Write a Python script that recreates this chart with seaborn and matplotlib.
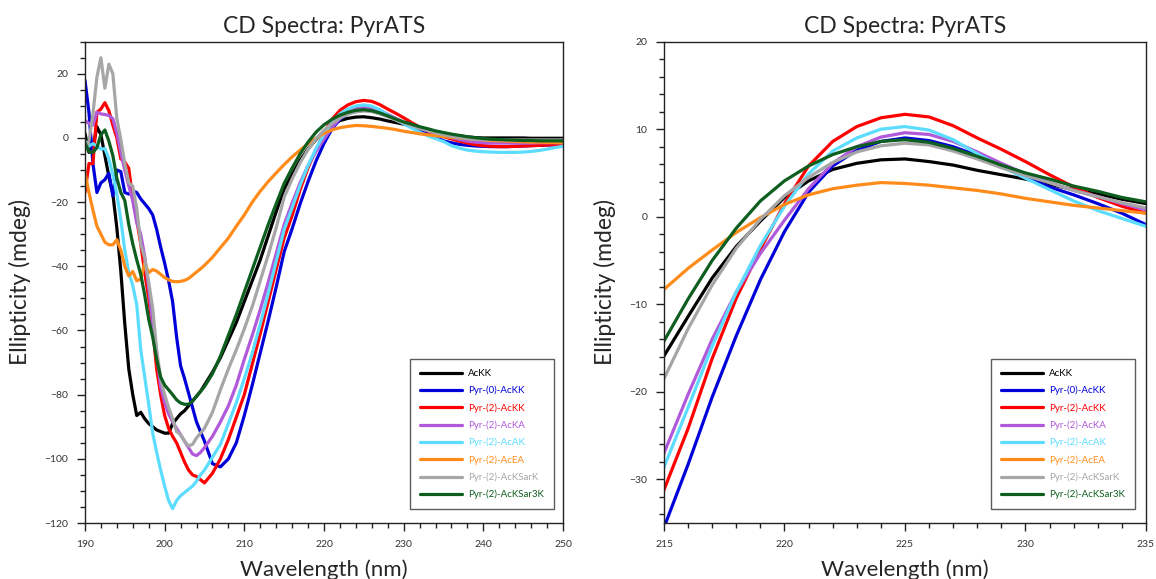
import numpy as np
import pandas as pd
import matplotlib
matplotlib.use("Agg")
import matplotlib.pyplot as plt
from matplotlib.lines import Line2D
from matplotlib.ticker import MultipleLocator
import seaborn as sns

# ---------------- data ----------------
wavelength = [190, 190.5, 191, 191.5, 192, 192.5, 193, 193.5, 194, 194.5,
              195, 195.5, 196, 196.5, 197, 197.5, 198, 198.5, 199, 199.5,
              200, 200.5, 201, 201.5, 202, 202.5, 203, 203.5, 204, 204.5, 205,
              206, 207, 208, 209, 210, 211, 212, 213, 214, 215,
              216, 217, 218, 219, 220, 221, 222, 223, 224, 225,
              226, 227, 228, 229, 230, 231, 232, 233, 234, 235,
              236, 237, 238, 239, 240, 241, 242, 243, 244, 245,
              246, 247, 248, 249, 250]

series_names = ["AcKK", "Pyr-(0)-AcKK", "Pyr-(2)-AcKK", "Pyr-(2)-AcKA",
                "Pyr-(2)-AcAK", "Pyr-(2)-AcEA", "Pyr-(2)-AcKSarK", "Pyr-(2)-AcKSar3K"]
series_colors = ["#000000", "#0000D8", "#FF0000", "#B159DB",
                 "#5CDCFF", "#FF8C1A", "#A6A6A6", "#0E5E1F"]

ackk = [1.5, -4.5, -3, 3.5, 1, -5.5, -12, -17.5, -28, -41.5,
        -58, -72, -80, -86.5, -85.5, -87.5, -89, -90, -91, -91.5,
        -92, -92, -89, -87.5, -86, -85, -83.5, -82, -80.5, -79, -77,
        -73, -68.5, -63, -57.5, -51, -44.5, -38, -30.5, -23, -15.9,
        -11.4, -7.0, -3.4, -0.5, 2.2, 4.1, 5.4, 6.1, 6.5, 6.6,
        6.3, 5.9, 5.3, 4.8, 4.3, 3.7, 3.1, 2.6, 2.0, 1.5,
        1.0, 0.6, 0.3, 0.1, 0.0, 0.0, 0.0, 0.0, 0.0, 0.0,
        -0.1, -0.1, -0.1, -0.1, -0.1]

pyr0_ackk = [18, 8, -8, -17, -14, -13, -11, -18, -10, -10.5,
             -17, -17.5, -16.5, -17, -19, -20.5, -22, -24, -28.5, -34,
             -39, -44.5, -51, -62, -71, -75, -79.5, -84, -88.5, -91.5, -94.5,
             -101.5, -102.5, -100, -95, -86.5, -77, -67, -57, -46.5, -35.5,
             -28.3, -20.6, -13.6, -7.2, -1.7, 2.8, 5.8, 7.6, 8.6, 9.0,
             8.7, 8.0, 7.0, 5.9, 4.6, 3.4, 2.5, 1.5, 0.4, -0.9,
             -1.5, -2.0, -2.3, -2.5, -2.6, -2.7, -2.7, -2.7, -2.6, -2.5,
             -2.4, -2.3, -2.2, -2.1, -2.0]

pyr2_ackk = [-17, -8, -8, 8, 9, 11, 8.5, 4, 0, -6.5,
             -7.5, -9.5, -19, -25.5, -33, -42, -50, -59.5, -72, -80,
             -86.5, -90.5, -93, -95, -98, -101, -103.5, -105, -105.5, -106.5, -107.5,
             -104.5, -100, -94, -87, -80, -70.5, -61, -51, -41, -31.2,
             -24.2, -16.2, -9.3, -3.7, 1.5, 5.8, 8.6, 10.3, 11.3, 11.7,
             11.4, 10.4, 9.0, 7.7, 6.3, 4.8, 3.4, 2.2, 1.2, 0.4,
             -0.3, -1.0, -1.6, -2.1, -2.4, -2.6, -2.7, -2.7, -2.6, -2.5,
             -2.4, -2.3, -2.2, -2.1, -2.0]

pyr2_acka = [5.5, 4.5, 4, 8, 7.5, 7.3, 7, 6, 1.5, -4.5,
             -10, -15, -19.5, -26.5, -30, -37, -46.5, -58, -67, -77.5,
             -82.5, -86, -88.5, -90.5, -92.5, -94.5, -96.5, -98.5, -99, -98, -96.5,
             -93, -88.5, -83.5, -77, -69, -61.5, -53.5, -45, -36, -27,
             -20.3, -14.0, -8.6, -4.2, -0.4, 3.2, 6.1, 8.0, 9.1, 9.6,
             9.4, 8.6, 7.4, 6.1, 4.9, 3.9, 3.0, 2.3, 1.5, 0.8,
             0.1, -0.5, -1.0, -1.3, -1.5, -1.6, -1.6, -1.6, -1.6, -1.6,
             -1.6, -1.5, -1.5, -1.5, -1.5]

pyr2_acak = [-1, -2.5, -1.8, -2.5, -3.5, -3.3, -6.5, -11.5, -17.5, -25.5,
             -35, -42, -46, -52, -66, -74.5, -83, -92, -98, -103.5,
             -108.5, -113, -115.5, -113, -111.5, -110.5, -109.5, -108.5, -107, -105, -103.5,
             -99.5, -95.5, -89, -82.5, -75, -67, -58, -48.5, -38.5, -28.6,
             -21.8, -14.8, -8.6, -3.3, 1.2, 4.9, 7.5, 9.0, 10.0, 10.3,
             9.9, 8.8, 7.2, 5.7, 4.4, 3.1, 1.8, 0.7, -0.2, -1.1,
             -2.4, -3.2, -3.8, -4.1, -4.3, -4.4, -4.5, -4.5, -4.5, -4.4,
             -4.2, -3.9, -3.5, -3.0, -2.6]

pyr2_acea = [-11, -17, -22.5, -27.5, -30, -32.5, -33.3, -33.3, -31.7, -35,
             -40, -43, -41.6, -44.5, -44, -39, -42, -41, -41.5, -42.5,
             -43.5, -44.2, -44.7, -44.8, -44.7, -44.4, -43.8, -42.8, -41.8, -40.8, -39.7,
             -37.2, -34.2, -31.2, -27.5, -24, -20, -16.6, -13.6, -10.9, -8.3,
             -5.9, -3.8, -1.8, -0.1, 1.4, 2.5, 3.2, 3.6, 3.9, 3.8,
             3.6, 3.3, 3.0, 2.6, 2.1, 1.7, 1.3, 1.0, 0.7, 0.4,
             0.2, 0.0, -0.2, -0.4, -0.6, -0.8, -0.9, -1.0, -1.1, -1.2,
             -1.3, -1.3, -1.4, -1.4, -1.5]

pyr2_acksark = [-4, -1, 7.5, 19, 25, 15.5, 23, 20, 6, -0.5,
                -8, -14, -15, -22, -33, -37.5, -45, -53, -66, -75,
                -80, -84, -87.5, -91.5, -92.5, -94.5, -96, -95.5, -93.5, -92, -90.5,
                -85.5, -78.5, -72, -66, -59.5, -52.5, -44.5, -36.5, -28, -18.5,
                -12.8, -7.8, -3.6, -0.3, 2.4, 4.5, 6.2, 7.4, 8.1, 8.4,
                8.2, 7.5, 6.6, 5.6, 4.7, 3.9, 3.0, 2.3, 1.6, 1.0,
                0.5, 0.1, -0.2, -0.4, -0.5, -0.5, -0.6, -0.6, -0.6, -0.6,
                -0.6, -0.6, -0.6, -0.6, -0.6]

pyr2_acksar3k = [-1.6, -4.2, -4.5, -3, 1, 2.5, -1, -5.5, -12.5, -17,
                 -19.5, -27, -33, -38, -42.5, -49, -56.5, -62, -69, -74.5,
                 -77, -78.5, -80, -81.6, -82.6, -83, -83, -82, -80.5, -79, -77.5,
                 -73.5, -68, -61.5, -55, -48, -41, -34, -27, -20.5, -14.2,
                 -9.4, -5.0, -1.3, 1.8, 4.1, 5.8, 7.1, 8.0, 8.6, 8.8,
                 8.5, 7.8, 6.9, 5.9, 5.0, 4.3, 3.5, 2.9, 2.2, 1.7,
                 1.2, 0.8, 0.4, 0.1, -0.2, -0.4, -0.5, -0.6, -0.7, -0.8,
                 -0.8, -0.9, -0.9, -0.9, -0.9]

all_series = [ackk, pyr0_ackk, pyr2_ackk, pyr2_acka,
              pyr2_acak, pyr2_acea, pyr2_acksark, pyr2_acksar3k]

title_text = "CD Spectra: PyrATS"
xlabel_text = "Wavelength (nm)"
ylabel_text = "Ellipticity (mdeg)"

# ---------------- build long table ----------------
frames = []
for name, vals in zip(series_names, all_series):
    frames.append(pd.DataFrame({"Wavelength": wavelength, "Ellipticity": vals, "Sample": name}))
df = pd.concat(frames, ignore_index=True)
palette = dict(zip(series_names, series_colors))

# ---------------- styling ----------------
sns.set_theme(style="white")
plt.rcParams['font.family'] = ['Lato', 'DejaVu Sans']

fig = plt.figure(figsize=(11.56, 5.79), dpi=100)
ax1 = fig.add_axes([0.0735, 0.0967, 0.4135, 0.8313])
ax2 = fig.add_axes([0.5744, 0.0967, 0.4169, 0.8313])

panel_cfg = [
    (ax1, (190, 250), (-120, 30), 10, 2, 20, 5, 0.981),
    (ax2, (215, 235), (-35, 20), 5, 1, 10, 2, 0.977),
]

for ax, xl, yl, xmaj, xmin, ymaj, ymin, legx in panel_cfg:
    sns.lineplot(data=df, x="Wavelength", y="Ellipticity", hue="Sample",
                 hue_order=series_names, palette=palette, estimator=None,
                 sort=False, linewidth=2.3, ax=ax, legend=False)
    ax.set_xlim(*xl)
    ax.set_ylim(*yl)
    ax.xaxis.set_major_locator(MultipleLocator(xmaj))
    ax.xaxis.set_minor_locator(MultipleLocator(xmin))
    ax.yaxis.set_major_locator(MultipleLocator(ymaj))
    ax.yaxis.set_minor_locator(MultipleLocator(ymin))
    ax.tick_params(which="both", direction="out", bottom=True, left=True,
                   top=False, right=False, colors="#222222", labelcolor="#333333",
                   labelsize=7.5, width=1.0)
    ax.tick_params(which="major", length=6, pad=6)
    ax.tick_params(which="minor", length=3.5)
    for sp in ax.spines.values():
        sp.set_visible(True)
        sp.set_color("#222222")
        sp.set_linewidth(1.0)
    ax.set_title(title_text, fontsize=16.5, pad=6)
    ax.set_xlabel(xlabel_text, fontsize=16, labelpad=8)
    ax.set_ylabel(ylabel_text, fontsize=16.5, labelpad=10)
    ax.grid(False)

    handles = [Line2D([0], [0], color=c, lw=2.3) for c in series_colors]
    leg = ax.legend(handles, series_names, loc="lower right",
                    bbox_to_anchor=(legx, 0.029), fontsize=7,
                    frameon=True, fancybox=False, edgecolor="#333333",
                    handlelength=4.4, handletextpad=0.6, labelspacing=0.8,
                    borderpad=1.0, borderaxespad=0.0)
    leg.get_frame().set_linewidth(1.0)
    for txt, c in zip(leg.get_texts(), series_colors):
        txt.set_color(c)

fig.savefig("out.png", dpi=100)
